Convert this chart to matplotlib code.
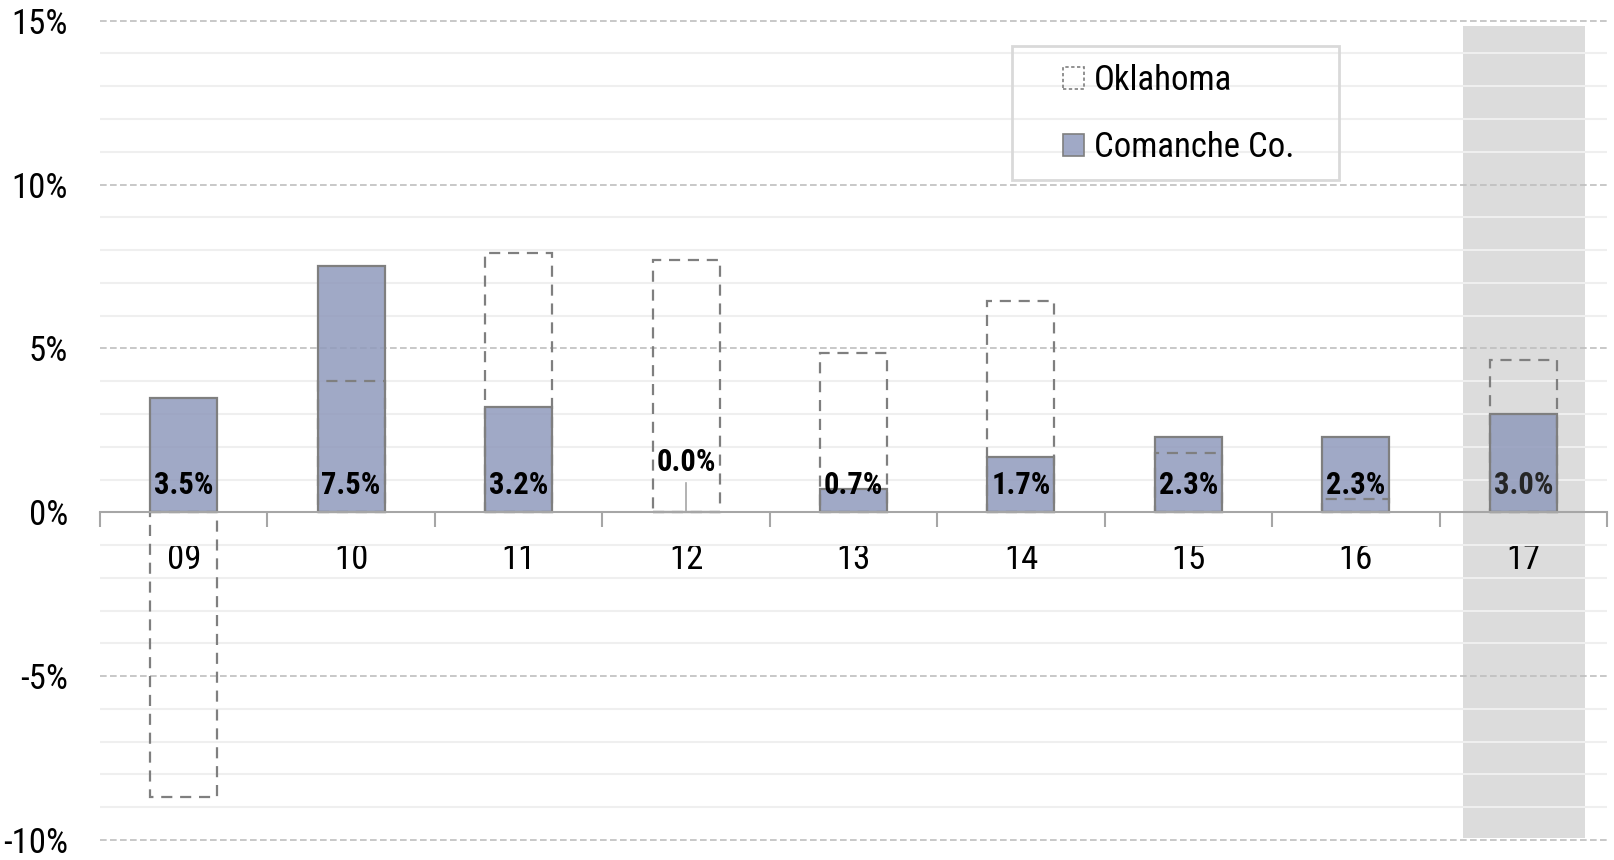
import numpy as np
import matplotlib
matplotlib.use("Agg")
import matplotlib.pyplot as plt
from matplotlib.patches import Patch, Rectangle

years = ["09", "10", "11", "12", "13", "14", "15", "16", "17"]
comanche = [3.5, 7.5, 3.2, 0.0, 0.7, 1.7, 2.3, 2.3, 3.0]
oklahoma = [-8.7, 4.0, 7.9, 7.7, 4.85, 6.45, 1.8, 0.4, 4.65]
labels = ["3.5%", "7.5%", "3.2%", "0.0%", "0.7%", "1.7%", "2.3%", "2.3%", "3.0%"]
ytick_vals = [-10, -5, 0, 5, 10, 15]
ytick_text = ["-10%", "-5%", "0%", "5%", "10%", "15%"]

plt.rcParams['font.family'] = ['Roboto Condensed', 'Liberation Sans', 'DejaVu Sans']

W, H = 1614, 860
fig = plt.figure(figsize=(W / 100, H / 100), dpi=100)
ax = fig.add_axes([100 / W, 1 - 843.3 / H, 1507 / W, (843.3 - 17.4) / H])

x = np.arange(len(years))
ax.set_xlim(-0.5, len(years) - 0.5)
ax.set_ylim(-10.1, 15.1)

# grid
ax.set_yticks(ytick_vals)
ax.set_yticklabels(ytick_text, fontsize=25)
ax.set_yticks(np.arange(-10, 16, 1), minor=True)
ax.grid(axis='y', which='major', color='#bfbfbf', linestyle=(0, (4, 2)), linewidth=1.2, zorder=0)
ax.grid(axis='y', which='minor', color='#efefef', linestyle='-', linewidth=1.5, zorder=0)
ax.tick_params(axis='y', which='both', length=0, pad=23)

# highlight for the last year
lo, hi = ax.get_ylim()
ax.axvspan(7.64, 8.37, ymin=(-9.93 - lo) / (hi - lo), ymax=(14.85 - lo) / (hi - lo),
           color='#dcdcdc', zorder=1, linewidth=0)

ax.bar(x, comanche, width=0.4, color=(144 / 255, 154 / 255, 188 / 255, 0.85),
       edgecolor='#7f7f7f', linewidth=1.6, zorder=2)
ax.bar(x, oklahoma, width=0.4, fill=False, edgecolor='#7f7f7f', linewidth=1.6,
       linestyle=(0, (5, 3.5)), zorder=3)

for i, t in enumerate(labels):
    col = '#262626' if i == len(labels) - 1 else 'black'
    if comanche[i] == 0:
        ax.plot([x[i], x[i]], [0, 0.9], color='#a6a6a6', linewidth=1.2, zorder=3)
        ax.text(x[i], 1.53, t, ha='center', va='center', fontsize=22, fontweight='bold', color=col, zorder=5)
    else:
        ax.text(x[i], 0.82, t, ha='center', va='center', fontsize=22, fontweight='bold', color=col, zorder=5)

# x axis at zero
for s in ['left', 'right', 'top']:
    ax.spines[s].set_visible(False)
ax.spines['bottom'].set_position(('data', 0))
ax.spines['bottom'].set_color('#a6a6a6')
ax.spines['bottom'].set_linewidth(1.5)
ax.spines['bottom'].set_zorder(4)
ax.set_xticks(x)
ax.set_xticklabels(years, fontsize=25)
ax.set_xticks(np.arange(-0.5, len(years), 1), minor=True)
ax.tick_params(axis='x', which='major', length=0, pad=22)
ax.tick_params(axis='x', which='minor', length=11, width=1.5, color='#a6a6a6', direction='out')

# legend
handles = [Patch(facecolor='none', edgecolor='#7f7f7f', linestyle=(0, (2, 1.5)), linewidth=1.2, label='Oklahoma'),
           Patch(facecolor=(144 / 255, 154 / 255, 188 / 255, 0.85), edgecolor='#7f7f7f', linewidth=1.2,
                 label='Comanche Co.')]
fig.legend(handles=handles, loc='center left', bbox_to_anchor=(1063 / W, 1 - 114.2 / H),
           frameon=False, fontsize=25, handlelength=0.6, handleheight=0.6, handletextpad=0.3,
           borderpad=0, borderaxespad=0, labelspacing=0.97)
fig.patches.append(Rectangle((1012 / W, 1 - 180 / H), 327 / W, 134 / H, transform=fig.transFigure,
                             facecolor='none', edgecolor='#d9d9d9', linewidth=2, zorder=10))

fig.savefig('out.png', dpi=100)
